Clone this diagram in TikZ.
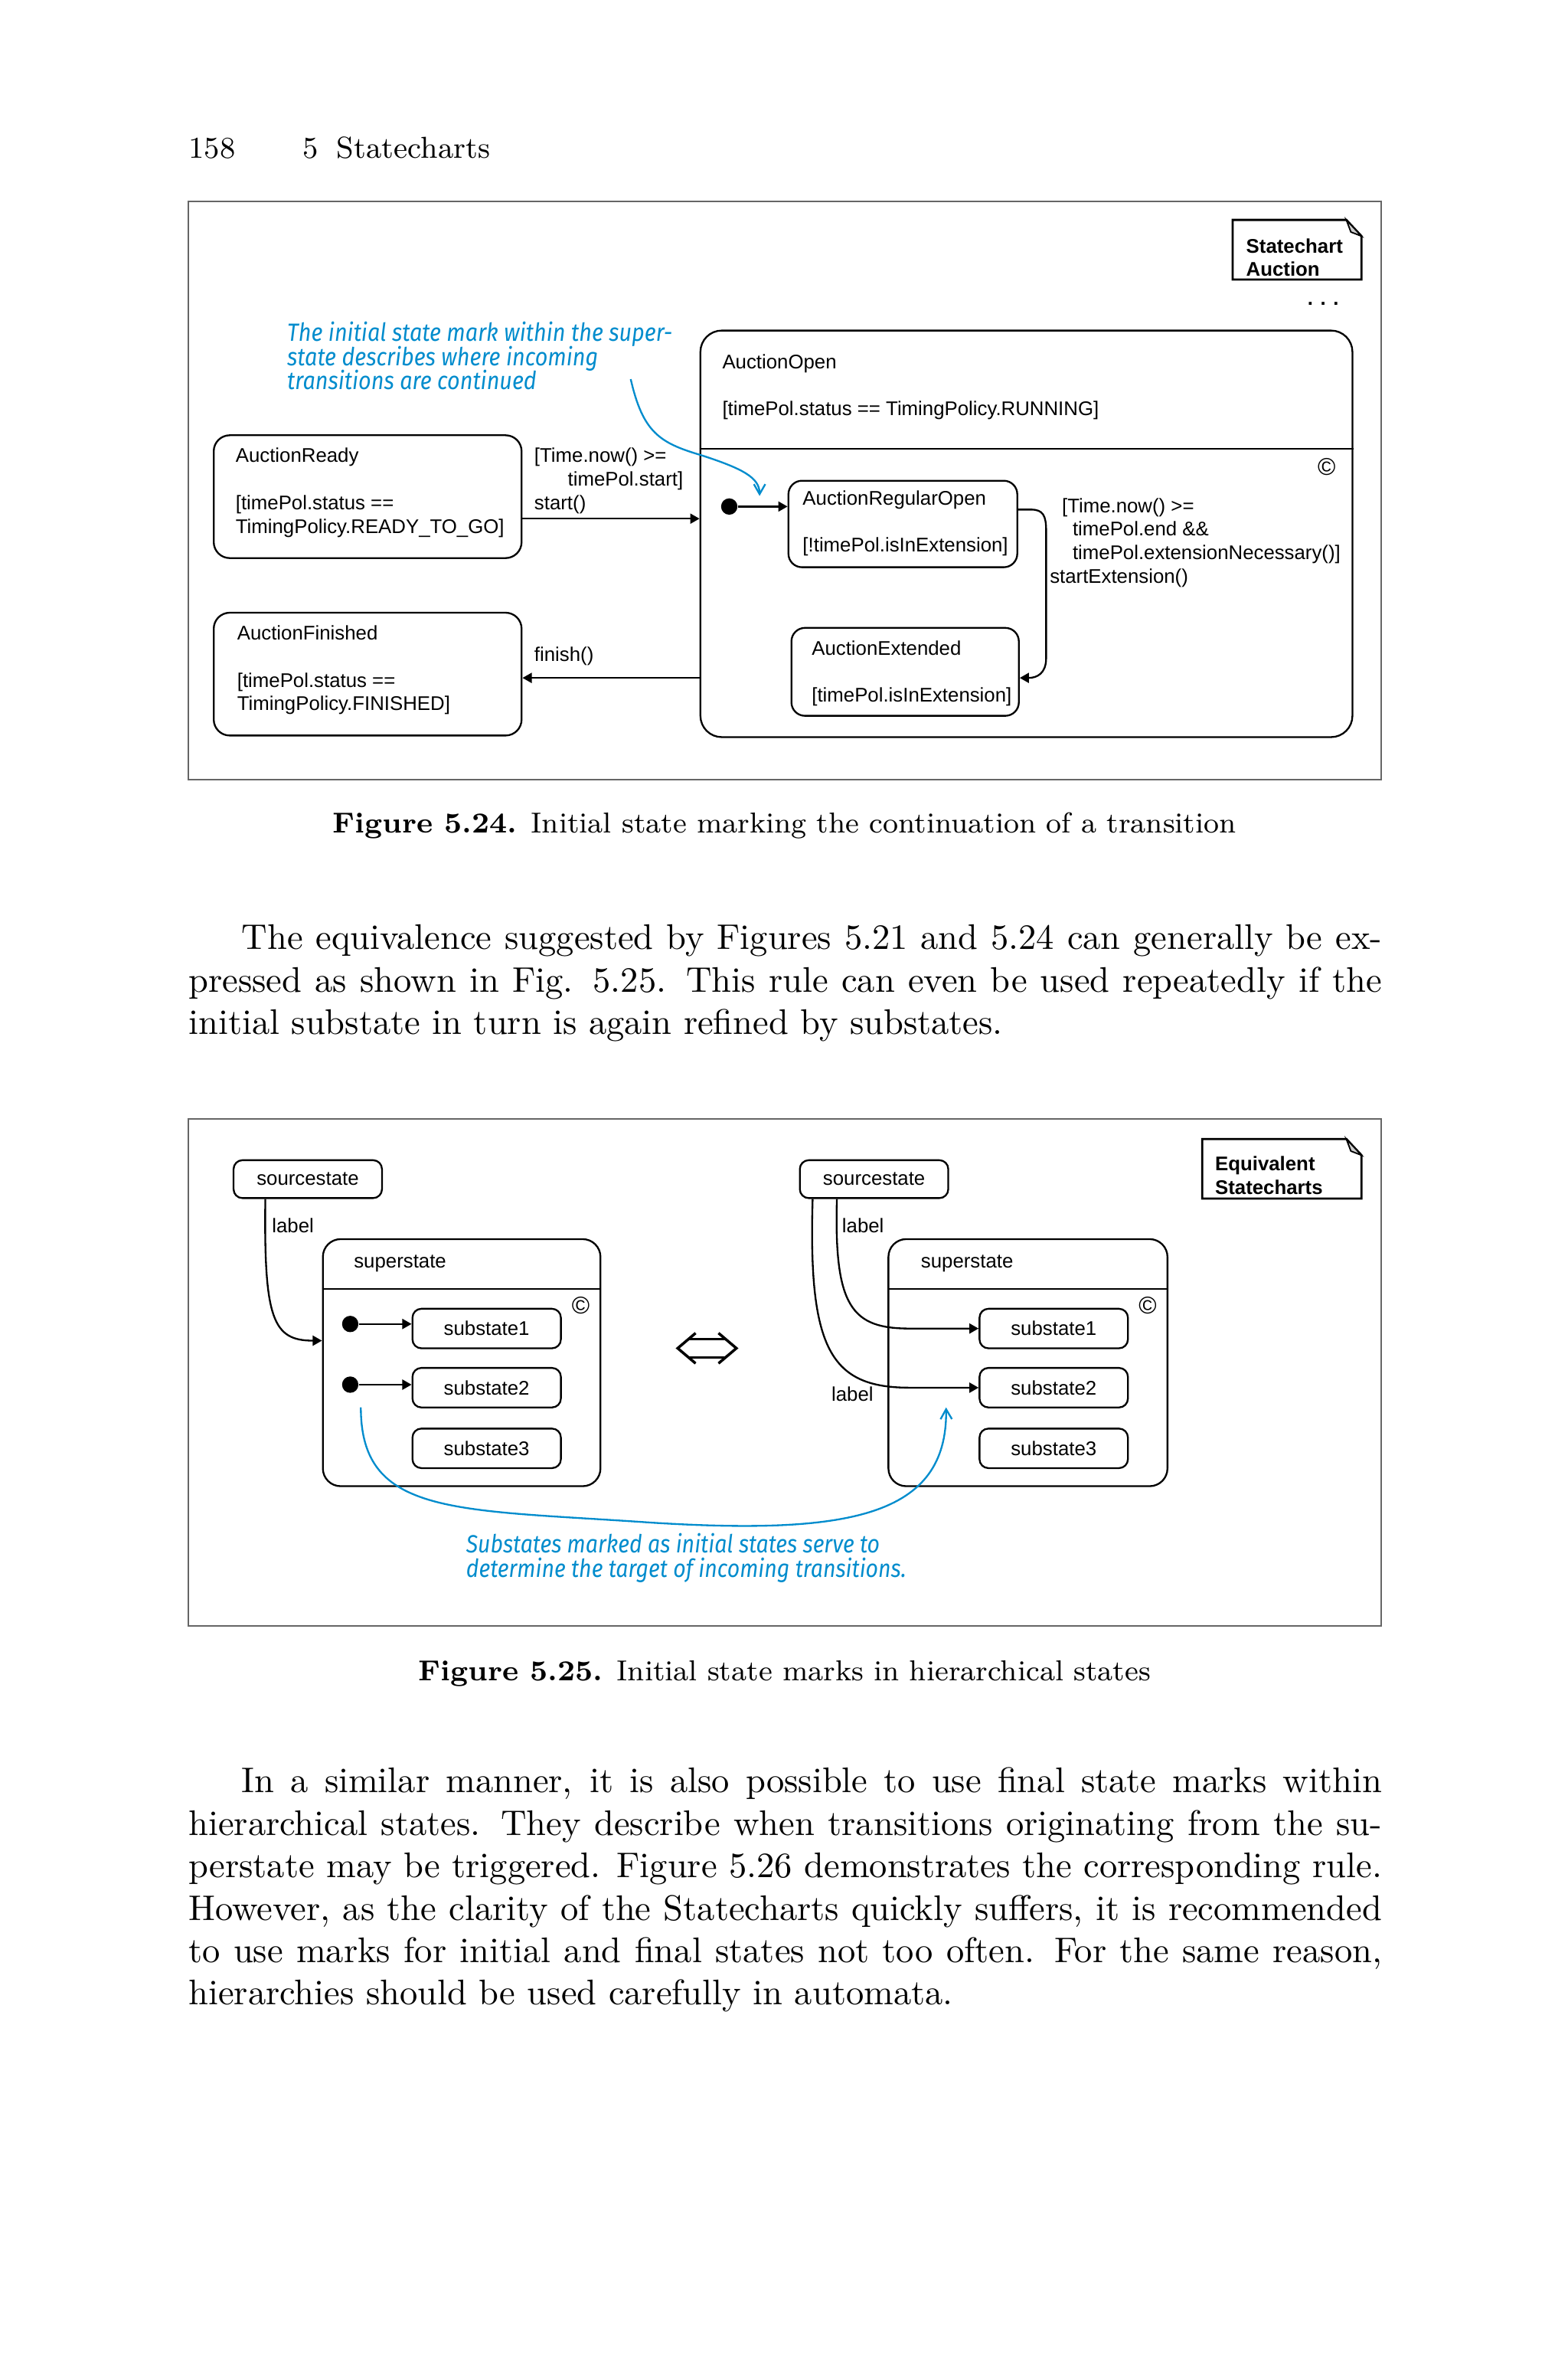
\documentclass[tikz,border=0pt]{standalone}
\usepackage{fontspec}
\usepackage{graphicx}
\usetikzlibrary{arrows.meta}
\newfontfamily\diafont{Liberation Sans}
\newfontfamily\hintfont{Fira Sans}
\definecolor{hintblue}{RGB}{0,140,205}
\newcommand{\stacklines}[1]{\vtop{\lineskiplimit=-\maxdimen\halign{##\hfil\cr#1\crcr}}}
\tikzset{
  stbox/.style={draw, line width=0.5pt, inner sep=0pt, rounded corners=4.5pt},
  substate/.style={draw, line width=0.5pt, inner sep=0pt, rounded corners=2.5pt, minimum width=41.7pt, minimum height=11.1pt, font=\diafont\fontsize{5.55}{6.6}\selectfont},
  txt/.style={font=\diafont\fontsize{5.55}{6.6}\selectfont, inner sep=0pt, anchor=base west},
  copymark/.style={font=\diafont\fontsize{6.8}{7}\selectfont, inner sep=0pt, anchor=center},
  notetxt/.style={txt, font=\diafont\bfseries\fontsize{5.55}{6.6}\selectfont},
  hint/.style={font=\hintfont\itshape\fontsize{7}{6.8}\selectfont, text=hintblue, inner sep=0pt, anchor=base west},
  initdot/.style={circle, fill=black, inner sep=0pt, minimum size=4.6pt},
  trans/.style={line width=0.5pt, -{Triangle[length=2.6pt,width=2.8pt]}},
  hintline/.style={draw=hintblue, line width=0.5pt, -{Straight Barb[length=2.8pt,width=3.2pt]}},
  figframe/.style={draw=black!60, line width=0.45pt},
  headline/.style={font=\fontsize{8.5}{11}\selectfont, inner sep=0pt, anchor=base west},
  bodyline/.style={font=\fontsize{10}{12}\selectfont, inner sep=0pt, anchor=base west},
  figcaption/.style={font=\fontsize{8.1}{11}\selectfont, inner sep=0pt, anchor=base},
}
\begin{document}
\begin{tikzpicture}[x=0.426pt, y=-0.426pt]
\useasboundingbox (0,0) rectangle (1034,1568);
\fill[white] (0,0) rectangle (1034,1568);%page

% running head
\node[headline] (pgno) at (124,104.4) {158};
\node[headline] (chapno) at (199.5,104.4) {5};
\node[headline] (chaptitle) at (221.7,104.4) {Statecharts};

% ---------- Figure 5.24
\draw[figframe] (124,133) rectangle (911,514);%frame
\draw[line width=0.6pt] (813,145) -- (888,145) -- (898,155.7) -- (898,184.3) -- (813,184.3) -- cycle;%note
\draw[line width=0.4pt, fill=black!20] (888,145) -- (891,153) -- (898,155.7) -- cycle;%fold
\node[notetxt] (noteA) at (821.5,166.7) {\stacklines{Statechart\cr Auction}};
\node[notetxt] (dotsA) at (862,201) {. . .};

\node[hint] (hintA) at (189,225) {\scalebox{0.885}[1]{\stacklines{The initial state mark within the super-\cr state describes where incoming\cr transitions are continued}}};

\node[stbox, rounded corners=6pt, minimum width=183.2pt, minimum height=114.2pt] (AO) at (677,352) {};
\draw[line width=0.5pt] (AO.west |- 0,296) -- (AO.east |- 0,296);%divider
\node[txt] (AOtext) at (476,243) {\stacklines{AuctionOpen\cr\cr[timePol.status == TimingPolicy.RUNNING]}};
\node[copymark] (copyA) at (875,308) {\textcopyright};

\node[stbox, minimum width=86.5pt, minimum height=34.5pt] (AR) at (242.5,327.5) {};
\node[txt] (ARtext) at (155,305) {\stacklines{AuctionReady\cr\cr[timePol.status ==\cr TimingPolicy.READY\_TO\_GO]}};
\node[stbox, minimum width=86.5pt, minimum height=34.5pt] (AF) at (242.5,444.5) {};
\node[txt] (AFtext) at (156,422) {\stacklines{AuctionFinished\cr\cr[timePol.status ==\cr TimingPolicy.FINISHED]}};

\node[stbox, rounded corners=3.8pt, minimum width=64.3pt, minimum height=24.3pt] (ARO) at (595.5,345.5) {};
\node[txt] (AROtext) at (529,333) {\stacklines{AuctionRegularOpen\cr\cr[!timePol.isInExtension]}};
\node[stbox, rounded corners=3.8pt, minimum width=63.9pt, minimum height=24.7pt] (AE) at (597,443) {};
\node[txt] (AEtext) at (535,432) {\stacklines{AuctionExtended\cr\cr[timePol.isInExtension]}};
\node[initdot] (iniA) at (481,334) {};

\draw[trans] (AR.east |- 0,342) -- (AO.west |- 0,342);%start
\node[txt] (startlbl) at (352,305) {\stacklines{[Time.now() >=\cr\hspace*{9.4pt}timePol.start]\cr start()}};
\draw[trans] (AO.west |- 0,447) -- (AF.east |- 0,447);%finish
\node[txt] (finishlbl) at (352,436) {finish()};
\draw[trans] (iniA) -- (ARO.west |- iniA);
\draw[trans] (ARO.east |- 0,336) -- (680,336) .. controls (688,336) and (690,340) .. (690,350) -- (690,434) .. controls (690,444) and (684,447) .. (AE.east |- 0,447);%extension
\node[txt] (extlbl) at (692,338) {\stacklines{\hspace*{3.4pt}[Time.now() >=\cr\hspace*{6.4pt}timePol.end \&\&\cr\hspace*{6.4pt}timePol.extensionNecessary()]\cr startExtension()}};

\coordinate (hintAfrom) at (416,250);
\coordinate (hintAto) at (501,327);
\draw[hintline] (hintAfrom) .. controls (424,285) and (435,292) .. (462,300) .. controls (490,309) and (501,315) .. (hintAto);

\node[figcaption] (capA) at (517.5,549) {\textbf{Figure 5.24.} Initial state marking the continuation of a transition};

% body text
\node[bodyline] (parAa) at (159,626) {\makebox[320.4pt][s]{The equivalence suggested by Figures 5.21 and 5.24 can generally be ex-}};
\node[bodyline] (parAb) at (124,654) {\makebox[335.3pt][s]{pressed as shown in Fig. 5.25. This rule can even be used repeatedly if the}};
\node[bodyline] (parAc) at (124,682) {initial substate in turn is again refined by substates.};

% ---------- Figure 5.25
\draw[figframe] (124,738) rectangle (911,1072);%frame
\draw[line width=0.6pt] (793,751) -- (888,751) -- (898,761.7) -- (898,790.3) -- (793,790.3) -- cycle;%note
\draw[line width=0.4pt, fill=black!20] (888,751) -- (891,759) -- (898,761.7) -- cycle;%fold
\node[notetxt] (noteB) at (801,772) {\stacklines{Equivalent\cr Statecharts}};

% left chart
\node[substate, minimum height=10.65pt] (srcA) at (203,777.5) {sourcestate};
\node[stbox, rounded corners=5pt, minimum width=78pt, minimum height=69.4pt] (supA) at (304.5,898.5) {};
\draw[line width=0.5pt] (supA.west |- 0,850) -- (supA.east |- 0,850);%divider
\node[txt] (supAname) at (233,836) {superstate};
\node[copymark] (copyB) at (383,861) {\textcopyright};
\node[substate] (subA1) at (321,876) {substate1};
\node[substate] (subA2) at (321,915) {substate2};
\node[substate] (subA3) at (321,955) {substate3};
\node[initdot] (iniB) at (231,873) {};
\node[initdot] (iniC) at (231,913) {};
\draw[trans] (iniB) -- (subA1.west |- iniB);
\draw[trans] (iniC) -- (subA2.west |- iniC);
\draw[trans] (srcA.south -| 175,0) .. controls (174,870) and (180,884) .. (supA.west |- 0,884);
\node[txt] (lblA) at (179,813) {label};

% equivalence sign
\coordinate (eqL) at (447,889);
\coordinate (eqR) at (485.7,889);
\draw[line width=0.75pt] ([shift={(11.8,-10)}]eqL) -- (eqL) -- ([shift={(11.8,10)}]eqL);
\draw[line width=0.75pt] ([shift={(-11.8,-10)}]eqR) -- (eqR) -- ([shift={(-11.8,10)}]eqR);
\draw[line width=0.75pt] ([shift={(7.2,-6.1)}]eqL) -- ([shift={(-7.2,-6.1)}]eqR);
\draw[line width=0.75pt] ([shift={(7.2,6.1)}]eqL) -- ([shift={(-7.2,6.1)}]eqR);

% right chart
\node[substate, minimum height=10.65pt] (srcB) at (576.5,777.5) {sourcestate};
\node[stbox, rounded corners=5pt, minimum width=78.4pt, minimum height=69.4pt] (supB) at (678,898.5) {};
\draw[line width=0.5pt] (supB.west |- 0,850) -- (supB.east |- 0,850);%divider
\node[txt] (supBname) at (607,836) {superstate};
\node[copymark] (copyC) at (757,861) {\textcopyright};
\node[substate] (subB1) at (695,876) {substate1};
\node[substate] (subB2) at (695,915) {substate2};
\node[substate] (subB3) at (695,955) {substate3};
\draw[trans] (srcB.south -| 552,0) .. controls (550,862) and (562,876) .. (600,876) -- (subB1.west);
\draw[trans] (srcB.south -| 536,0) .. controls (533,890) and (548,915) .. (600,915) -- (subB2.west);
\node[txt] (lblB) at (555,813) {label};
\node[txt] (lblC) at (548,924) {label};

\coordinate (hintBfrom) at (238,928);
\coordinate (hintBto) at (624,928);
\draw[hintline] (hintBfrom) .. controls (238,1000) and (300,995) .. (430,1004) .. controls (560,1012) and (625,1000) .. (hintBto);
\node[hint] (hintB) at (307,1024) {\scalebox{0.875}[1]{\stacklines{Substates marked as initial states serve to\cr determine the target of incoming transitions.}}};

\node[figcaption] (capB) at (517.5,1108) {\textbf{Figure 5.25.} Initial state marks in hierarchical states};

% body text
\node[bodyline] (parBa) at (159,1182) {\makebox[320.4pt][s]{In a similar manner, it is also possible to use final state marks within}};
\node[bodyline] (parBb) at (124,1210) {\makebox[335.3pt][s]{hierarchical states. They describe when transitions originating from the su-}};
\node[bodyline] (parBc) at (124,1238) {\makebox[335.3pt][s]{perstate may be triggered. Figure 5.26 demonstrates the corresponding rule.}};
\node[bodyline] (parBd) at (124,1266) {\makebox[335.3pt][s]{However, as the clarity of the Statecharts quickly suffers, it is recommended}};
\node[bodyline] (parBe) at (124,1294) {\makebox[335.3pt][s]{to use marks for initial and final states not too often. For the same reason,}};
\node[bodyline] (parBf) at (124,1322) {hierarchies should be used carefully in automata.};
\end{tikzpicture}
\end{document}
